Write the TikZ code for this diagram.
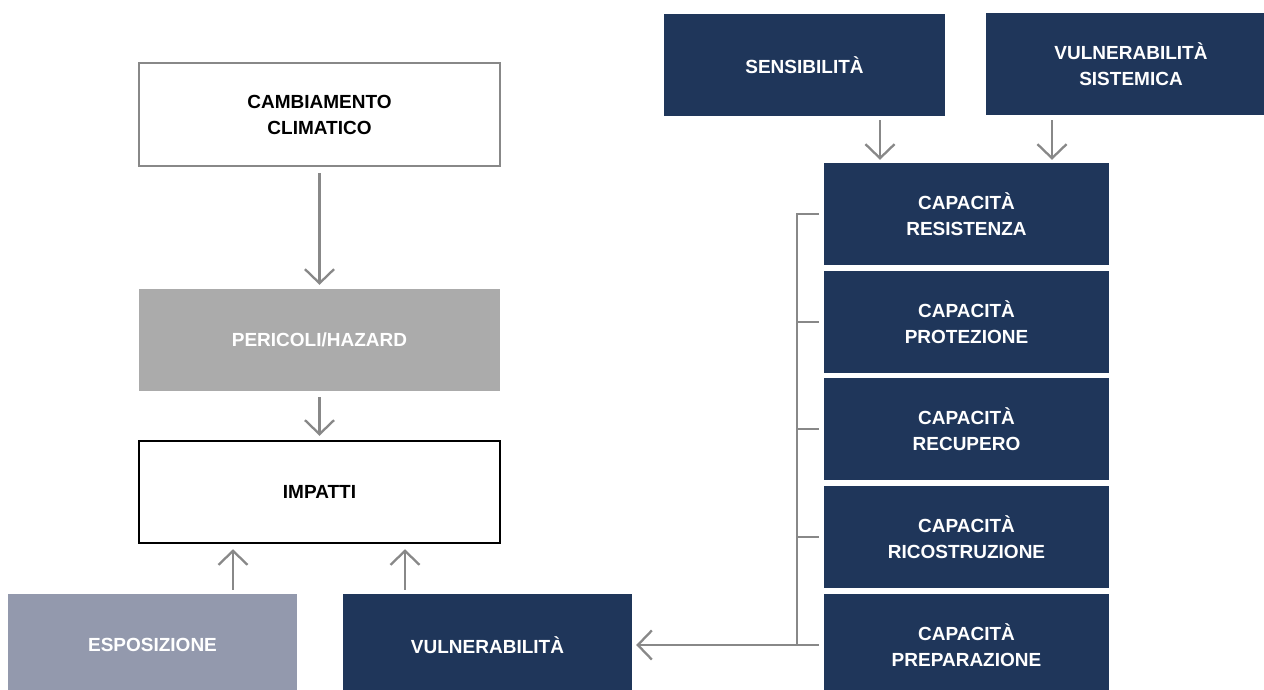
\documentclass[tikz,border=0pt]{standalone}
\usepackage{fontspec}
\setmainfont{Liberation Sans}
\usetikzlibrary{arrows.meta}
\definecolor{navy}{HTML}{1F365A}
\definecolor{hazgray}{HTML}{ABABAB}
\definecolor{expgray}{HTML}{9399AD}
\definecolor{linegray}{HTML}{888888}
\begin{document}
\begin{tikzpicture}[x=1pt,y=-1pt,
  boxbase/.style={inner sep=0pt, align=center, font=\bfseries\fontsize{19}{26}\selectfont},
  whitebox/.style={boxbase, draw=linegray, line width=2pt, fill=white, text=black, minimum width=361pt, minimum height=103pt},
  blackbox/.style={boxbase, draw=black, line width=2.5pt, fill=white, text=black, minimum width=361pt, minimum height=102pt},
  hazbox/.style={boxbase, fill=hazgray, text=white, minimum width=361pt, minimum height=102pt},
  navybox/.style={boxbase, fill=navy, text=white, minimum height=102pt},
  expbox/.style={boxbase, fill=expgray, text=white, minimum height=102pt},
  arr/.style={draw=linegray, line width=2.3pt, -{Straight Barb[length=14pt,width=29pt,line width=2.3pt]}},
  brk/.style={draw=linegray, line width=2.5pt}
]
\useasboundingbox (0,0) rectangle (1264,689);
\clip (0,0) rectangle (1264,689);

\node[whitebox] (clim) at (319.5,114.5) {CAMBIAMENTO\\CLIMATICO};
\node[hazbox] (haz) at (319.5,340) {PERICOLI/HAZARD};
\node[blackbox] (imp) at (319.5,492) {IMPATTI};
\node[expbox, minimum width=289pt] (esp) at (152.5,645) {ESPOSIZIONE};
\node[navybox, minimum width=289pt] (vul) at (487.5,645) {VULNERABILITÀ};

\node[navybox, minimum width=281pt] (sens) at (804.5,65) {SENSIBILITÀ};
\node[navybox, minimum width=290pt] (vsis) at (1131,64) {VULNERABILITÀ\\SISTEMICA};

\node[navybox, minimum width=285pt] (c1) at (966.5,214) {CAPACITÀ\\RESISTENZA};
\node[navybox, minimum width=285pt] (c2) at (966.5,322) {CAPACITÀ\\PROTEZIONE};
\node[navybox, minimum width=285pt] (c3) at (966.5,429) {CAPACITÀ\\RECUPERO};
\node[navybox, minimum width=285pt] (c4) at (966.5,537) {CAPACITÀ\\RICOSTRUZIONE};
\node[navybox, minimum width=285pt] (c5) at (966.5,645) {CAPACITÀ\\PREPARAZIONE};

% arrows
\draw[arr] ([yshift=-6pt]clim.south) -- ([yshift=4pt]haz.north);
\draw[arr] ([yshift=-6pt]haz.south) -- ([yshift=4pt]imp.north);
\draw[arr] ([xshift=80.5pt,yshift=4pt]esp.north) -- ([xshift=-86.5pt,yshift=-5pt]imp.south);
\draw[arr] ([xshift=-82.5pt,yshift=4pt]vul.north) -- ([xshift=85.5pt,yshift=-5pt]imp.south);
\draw[arr] ([xshift=75.5pt,yshift=-4pt]sens.south) -- ([xshift=-86.5pt,yshift=3pt]c1.north);
\draw[arr] ([xshift=-79pt,yshift=-5pt]vsis.south) -- ([xshift=85.5pt,yshift=3pt]c1.north);

% bracket
\coordinate (btop) at ([xshift=-27pt]c1.west);
\coordinate (bbot) at ([xshift=-27pt]c5.west);
\draw[brk] ([xshift=-5pt]c1.west) -- (btop) -- (bbot) -- ([xshift=-5pt]c5.west);
\draw[brk] ([xshift=-5pt]c2.west) -- ([xshift=-27pt]c2.west);
\draw[brk] ([xshift=-5pt]c3.west) -- ([xshift=-27pt]c3.west);
\draw[brk] ([xshift=-5pt]c4.west) -- ([xshift=-27pt]c4.west);
\draw[arr] (bbot) -- ([xshift=4pt]vul.east);
\end{tikzpicture}
\end{document}
